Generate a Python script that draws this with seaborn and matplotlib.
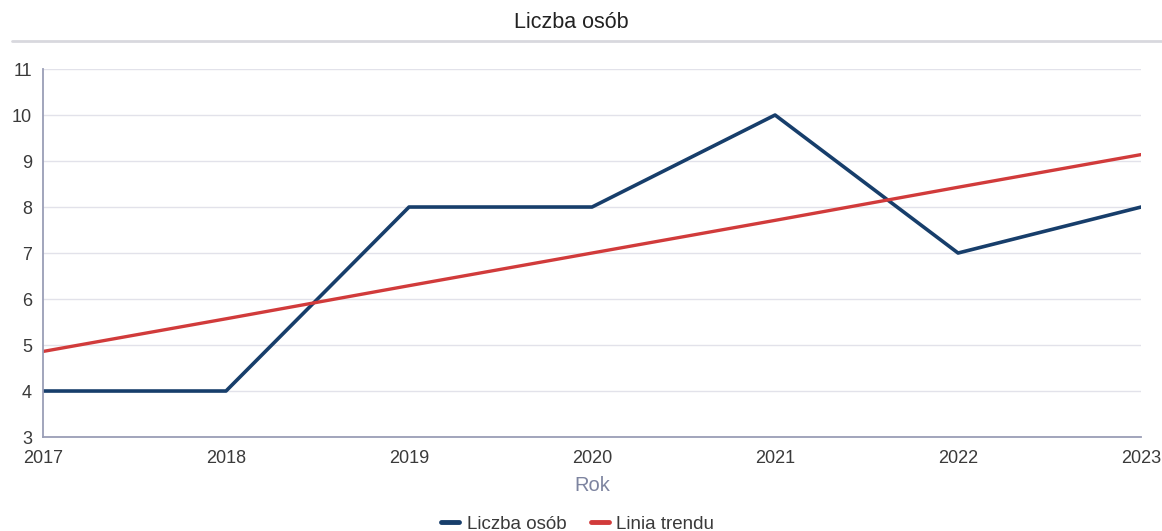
import matplotlib
matplotlib.use("Agg")
import matplotlib.pyplot as plt
import seaborn as sns
import pandas as pd
from matplotlib.lines import Line2D

years = [2017, 2018, 2019, 2020, 2021, 2022, 2023]
people = [4, 4, 8, 8, 10, 7, 8]
trend = [4.86, 5.57, 6.29, 7.0, 7.71, 8.43, 9.14]
y_ticks = [3, 4, 5, 6, 7, 8, 9, 10, 11]

blue = "#173e6b"
red = "#d13b3b"
tick_color = "#3a3a3a"

sns.set_theme(style="white")
plt.rcParams['font.family'] = ['Liberation Sans', 'DejaVu Sans']

df = pd.DataFrame({"Rok": years, "Liczba osób": people, "Linia trendu": trend})

fig = plt.figure(figsize=(11.62, 5.31), dpi=100)
ax = fig.add_axes([0.037, 0.177, 0.945, 0.693])

sns.lineplot(data=df, x="Rok", y="Liczba osób", color=blue, linewidth=2.6, ax=ax)
sns.lineplot(data=df, x="Rok", y="Linia trendu", color=red, linewidth=2.4, ax=ax)

ax.set_xlim(2017, 2023)
ax.set_ylim(3, 11)
ax.set_xticks(years)
ax.set_yticks(y_ticks)
ax.yaxis.grid(True, color="#e2e2ea", linewidth=1)
ax.set_axisbelow(True)
for s in ["top", "right"]:
    ax.spines[s].set_visible(False)
for s in ["left", "bottom"]:
    ax.spines[s].set_color("#9a9eb6")
    ax.spines[s].set_linewidth(1.3)
ax.tick_params(axis="both", length=0, labelsize=13, labelcolor=tick_color)
ax.tick_params(axis="y", pad=8)
ax.tick_params(axis="x", pad=9)
ax.set_ylabel("")
ax.set_xlabel("Rok", fontsize=14.5, color="#7d84a0", labelpad=7)

fig.text(0.492, 0.958, "Liczba osób", ha="center", va="center", fontsize=15.5, color="#222222")
fig.add_artist(Line2D([0.01, 1.0], [0.922, 0.922], color="#d8d8de", linewidth=2))

handles = [Line2D([], [], color=blue, linewidth=3.5), Line2D([], [], color=red, linewidth=3.5)]
fig.legend(handles, ["Liczba osób", "Linia trendu"], loc="center", bbox_to_anchor=(0.497, 0.013),
           ncol=2, frameon=False, fontsize=13.5, handlelength=0.96, handletextpad=0.4,
           columnspacing=1.3, labelcolor=tick_color)

fig.savefig("out.png", dpi=100)
